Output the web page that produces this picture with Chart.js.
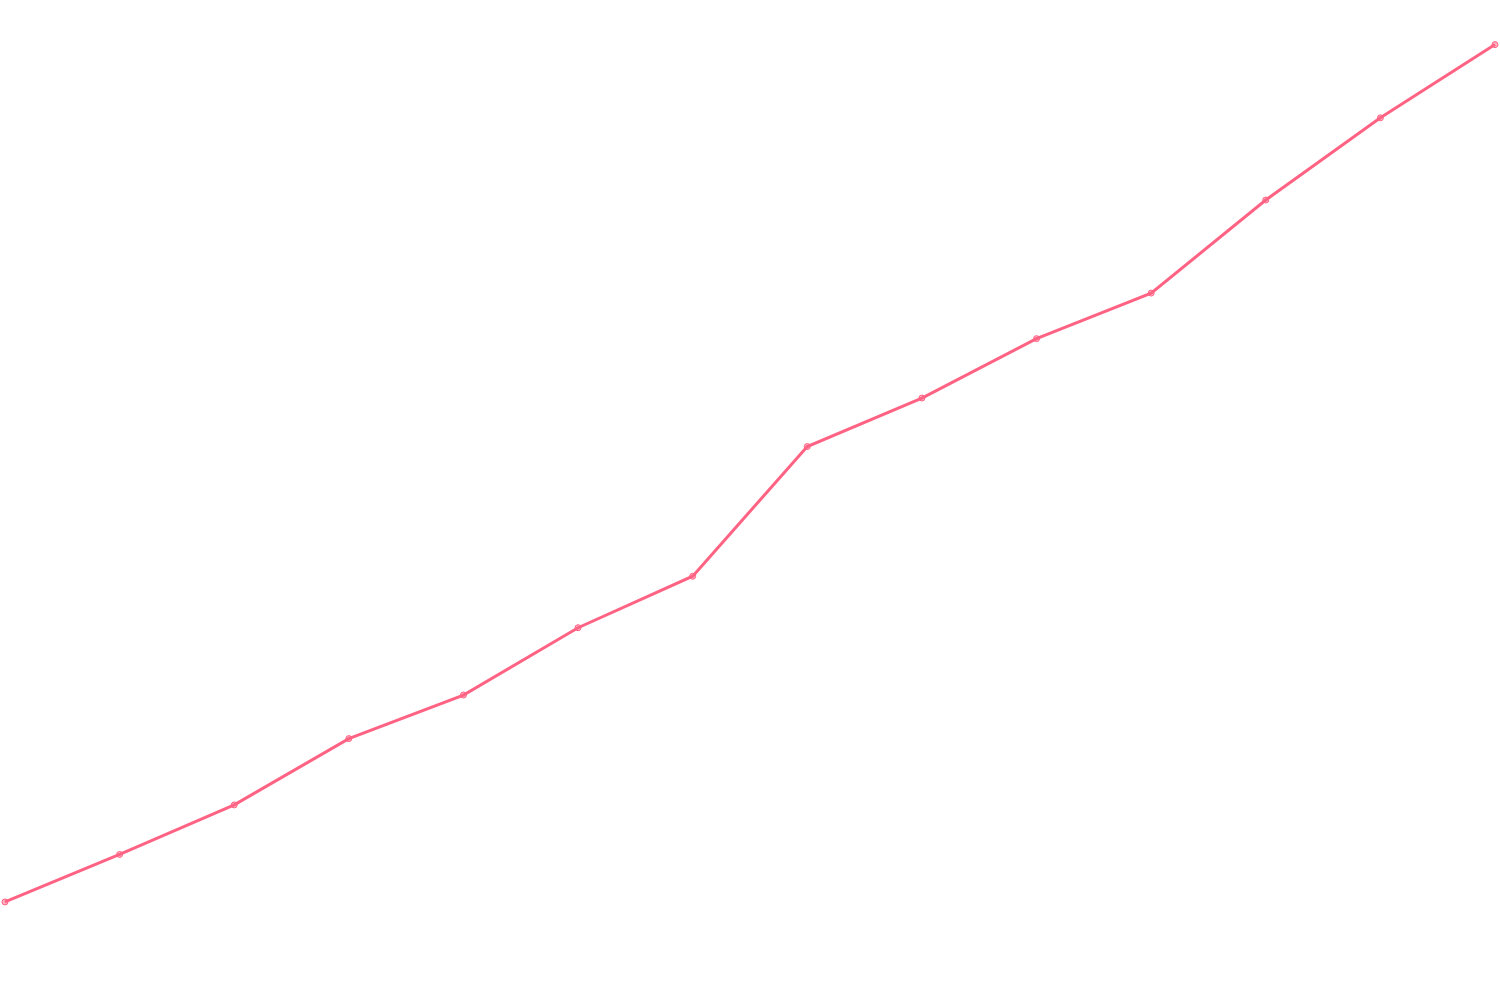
<!DOCTYPE html>
<html>
<head>
<meta charset="utf-8">
<script src="https://cdn.jsdelivr.net/npm/chart.js@4"></script>
<style>
  html, body { margin: 0; padding: 0; background: #fff; }
  #wrap { width: 1500px; height: 1000px; }
</style>
</head>
<body>
<div id="wrap"><canvas id="lineChart"></canvas></div>
<script>
// values (axis hidden, scale fixed 0-100)
const labels = ['1', '2', '3', '4', '5', '6', '7', '8', '9', '10', '11', '12', '13', '14'];
const values = [9.4, 14.2, 19.2, 25.9, 30.3, 37.1, 42.3, 55.4, 60.3, 66.3, 70.9, 80.3, 88.6, 96.0];
const yMin = 0;
const yMax = 100;

document.addEventListener("DOMContentLoaded", function() {
    const ctx = document.getElementById('lineChart').getContext('2d');
    new Chart(ctx, {
        type: 'line',
        data: {
            labels: labels,
            datasets: [{
                label: 'Series',
                data: values,
                borderColor: 'rgb(255, 99, 132)',
                backgroundColor: 'rgba(255, 99, 132, 0.5)',
                borderWidth: 3,
                pointRadius: 3,
                pointBorderWidth: 1,
                tension: 0
            }]
        },
        options: {
            responsive: true,
            maintainAspectRatio: false,
            animation: false,
            plugins: {
                legend: { display: false },
                title: { display: false },
                tooltip: { enabled: false }
            },
            scales: {
                x: { display: false },
                y: { display: false, min: yMin, max: yMax }
            }
        }
    });
});
</script>
</body>
</html>
